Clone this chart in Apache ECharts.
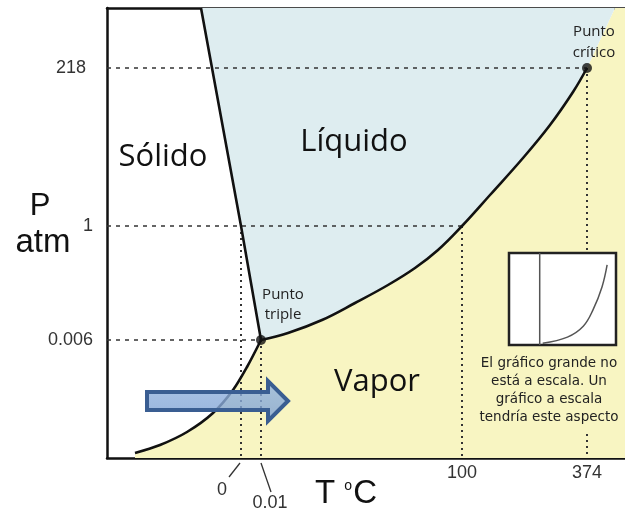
<!DOCTYPE html>
<html>
<head>
<meta charset="utf-8">
<script src="https://cdn.jsdelivr.net/npm/echarts@6/dist/echarts.min.js"></script>
<style>
  html, body { margin: 0; padding: 0; background: #fff; }
  #chart { width: 625px; height: 512px; }
</style>
</head>
<body>
<div id="chart"></div>
<script>
// schematic diagram (not to scale): positions are in diagram units
const tempTicks  = ['0', '0.01', '100', '374']
const tempPos    = [134, 154, 355, 480]
const pressTicks = ['0.006', '1', '218']
const pressPos   = [118, 232, 390]

const meltPoint   = [134, 232]
const triplePoint = [154, 118]
const boilPoint   = [355, 232]
const critPoint   = [480, 390]

const sublimation = [[28, 5], [53, 13], [80, 26], [106, 45], [126, 68], [140, 91], [154, 118]]
const fusion      = [[154, 118], [134, 232], [94, 450]]
const vaporization = [
  [154, 118], [181, 125], [215, 138], [248, 155], [281, 173], [308, 190], [331, 208],
  [355, 232], [383, 263], [416, 300], [443, 333], [466, 366], [480, 390],
]
const supercritical = [[480, 390], [508, 450]]

const arrowFromTo = [[40, 57], [181, 57]]

const insetVertical = [[28.7, 0], [28.7, 100]]
const insetCurve = [[31.5, 2], [54.6, 8.6], [69.4, 20.4], [78.7, 38.7], [87, 63.4], [91.7, 87]]

const X_MAX = 518, Y_MAX = 450

const liquidPoly = [[94, 450]].concat(fusion.slice().reverse().slice(1), vaporization.slice(1), supercritical.slice(1))
const vaporPoly = [[28, 0]].concat(sublimation, vaporization.slice(1), supercritical.slice(1), [[X_MAX, 450], [X_MAX, 0]])

const chart = echarts.init(document.getElementById('chart'))

function polySeries(points, color) {
  return {
    type: 'custom', xAxisIndex: 0, yAxisIndex: 0, z: 1, silent: true,
    data: [[0, 0]],
    renderItem: (params, api) => ({
      type: 'polygon',
      shape: { points: points.map((p) => api.coord(p)), smooth: 0 },
      style: { fill: color, stroke: null },
    }),
  }
}

function refLine(points, dash) {
  return {
    type: 'line', data: points, symbol: 'none', z: 2, silent: true,
    xAxisIndex: 0, yAxisIndex: 0,
    lineStyle: { color: '#333', width: dash === 'dot' ? 2 : 1.4, type: dash === 'dot' ? [2, 4] : [4, 5] },
  }
}

const curveStyle = { color: '#111', width: 2.6 }
const main = { xAxisIndex: 0, yAxisIndex: 0 }
const inset = { xAxisIndex: 2, yAxisIndex: 1 }

const series = [
  polySeries(vaporPoly, '#f8f5c2'),
  polySeries(liquidPoly, '#deedf0'),
  // horizontal guide lines
  refLine([[0, triplePoint[1]], triplePoint], 'dash'),
  refLine([[0, boilPoint[1]], boilPoint], 'dash'),
  refLine([[0, critPoint[1]], critPoint], 'dash'),
  // vertical guide lines
  refLine([meltPoint, [meltPoint[0], 0]], 'dot'),
  refLine([triplePoint, [triplePoint[0], 0]], 'dot'),
  refLine([boilPoint, [boilPoint[0], 0]], 'dot'),
  refLine([critPoint, [critPoint[0], 0]], 'dot'),
  { ...main, type: 'line', data: sublimation, symbol: 'none', z: 3, lineStyle: curveStyle, smooth: 0.3 },
  { ...main, type: 'line', data: fusion, symbol: 'none', z: 3, lineStyle: curveStyle },
  { ...main, type: 'line', data: vaporization, symbol: 'none', z: 3, lineStyle: curveStyle, smooth: 0.4 },
  {
    ...main, type: 'scatter', data: [triplePoint, critPoint], symbolSize: 10, z: 4,
    itemStyle: { color: '#111' },
  },
  {
    // arrow
    ...main, type: 'custom', z: 6, silent: true,
    data: [arrowFromTo[0].concat(arrowFromTo[1])],
    renderItem: (params, api) => {
      const a = api.coord([api.value(0), api.value(1)])
      const b = api.coord([api.value(2), api.value(3)])
      const sh = 9, hh = 20, hl = 20
      const y = a[1]
      return {
        type: 'polygon',
        shape: {
          points: [
            [a[0], y - sh], [b[0] - hl, y - sh], [b[0] - hl, y - hh], [b[0], y],
            [b[0] - hl, y + hh], [b[0] - hl, y + sh], [a[0], y + sh],
          ],
        },
        style: {
          fill: new echarts.graphic.LinearGradient(0, 0, 0, 1, [
            { offset: 0, color: 'rgba(150,182,225,0.8)' },
            { offset: 1, color: 'rgba(125,160,210,0.8)' },
          ]),
          stroke: '#3a5e92', lineWidth: 4, lineJoin: 'miter',
        },
      }
    },
  },
  {
    // leader labels for 0 and 0.01
    ...main, type: 'custom', z: 6, silent: true, clip: false,
    data: [[tempPos[0], 0, 0], [tempPos[1], 0, 1]],
    renderItem: (params, api) => {
      const p = api.coord([api.value(0), 0])
      const i = api.value(2)
      const ln = i === 0 ? [[-1, 5], [-12, 19]] : [[0, 5], [10, 34]]
      const tx = i === 0 ? [-19, 32] : [9, 45]
      return {
        type: 'group',
        children: [
          {
            type: 'line',
            shape: { x1: p[0] + ln[0][0], y1: p[1] + ln[0][1], x2: p[0] + ln[1][0], y2: p[1] + ln[1][1] },
            style: { stroke: '#333', lineWidth: 1.3 },
          },
          {
            type: 'text', x: p[0] + tx[0], y: p[1] + tx[1],
            style: {
              text: tempTicks[i], fill: '#333', font: '18px "Liberation Sans", Arial',
              align: 'center', verticalAlign: 'middle',
            },
          },
        ],
      }
    },
  },
  {
    // inset frame
    ...inset, type: 'custom', z: 7, silent: true,
    data: [[0, 0, 100, 100]],
    renderItem: (params, api) => {
      const a = api.coord([0, 100]), b = api.coord([100, 0])
      return {
        type: 'rect',
        shape: { x: a[0], y: a[1], width: b[0] - a[0], height: b[1] - a[1] },
        style: { fill: '#fff', stroke: '#222', lineWidth: 2.5 },
      }
    },
  },
  {
    ...inset, type: 'line', data: insetVertical, symbol: 'none', z: 8,
    lineStyle: { color: '#555', width: 1.5 },
  },
  {
    ...inset, type: 'line', data: insetCurve, symbol: 'none', z: 8, smooth: 0.4,
    lineStyle: { color: '#555', width: 1.5 },
  },
]

const regionFont = '"Open Sans", "Noto Sans", sans-serif'

function label(text, x, y, size, font, lineHeight) {
  return {
    type: 'text', x, y, z: 100,
    style: {
      text, fill: size < 20 ? '#222' : '#111', font: `${size}px ${font}`,
      align: 'center', verticalAlign: 'middle', lineHeight,
    },
  }
}

const option = {
  animation: false,
  backgroundColor: '#fff',
  grid: [
    { left: 107, top: 8, right: 0, bottom: 54 },
    { left: 509, top: 253, width: 107, height: 92 },
  ],
  xAxis: [
    {
      type: 'value', min: 0, max: X_MAX, gridIndex: 0,
      splitLine: { show: false },
      axisLine: { show: true, lineStyle: { color: '#111', width: 2.5 } },
      axisTick: { show: false },
      axisLabel: {
        customValues: tempPos.slice(2), margin: 6,
        formatter: (v) => tempTicks[tempPos.indexOf(v)],
        color: '#333', fontSize: 18, fontFamily: '"Liberation Sans", Arial',
      },
    },
    {
      type: 'value', min: 0, max: X_MAX, gridIndex: 0, position: 'top',
      splitLine: { show: false }, axisTick: { show: false }, axisLabel: { show: false },
      axisLine: { show: true, lineStyle: { color: '#111', width: 2.5 } },
    },
    { type: 'value', min: 0, max: 100, gridIndex: 1, show: false },
  ],
  yAxis: [
    {
      type: 'value', min: 0, max: Y_MAX, gridIndex: 0,
      splitLine: { show: false },
      axisLine: { show: true, lineStyle: { color: '#111', width: 2.5 } },
      axisTick: { show: false },
      axisLabel: {
        customValues: pressPos, margin: 14,
        formatter: (v) => {
          const t = pressTicks[pressPos.indexOf(v)]
          return t === '218' ? `{w|${t}}` : t
        },
        rich: { w: { color: '#333', fontSize: 18, fontFamily: '"Liberation Sans", Arial', padding: [0, 7, 0, 0] } },
        color: '#333', fontSize: 18, fontFamily: '"Liberation Sans", Arial',
      },
    },
    { type: 'value', min: 0, max: 100, gridIndex: 1, show: false },
  ],
  series,
  graphic: [
    label('Sólido', 163, 157, 31, regionFont),
    label('Líquido', 354, 142, 31, regionFont),
    label('Vapor', 377, 382, 31, regionFont),
    label('Punto\ntriple', 283, 305, 15, regionFont, 20),
    label('Punto\ncrítico', 594, 42, 15, regionFont, 21),
    label('P', 40, 206, 31, '"Liberation Sans", Arial'),
    label('atm', 43, 243, 33, '"Liberation Sans", Arial'),
    {
      type: 'text', x: 346, y: 494, z: 100,
      style: {
        text: '{a|T }{d|o}{a|C}', align: 'center', verticalAlign: 'middle',
        rich: {
          a: { fill: '#111', fontSize: 33, fontFamily: '"Liberation Sans", Arial' },
          d: { fill: '#111', fontSize: 14, fontFamily: '"Liberation Sans", Arial', padding: [0, 1, 16, 0] },
        },
      },
    },
    {
      type: 'text', x: 549, y: 390, z: 100,
      style: {
        text: 'El gráfico grande no\nestá a escala. Un\ngráfico a escala\ntendría este aspecto',
        fill: '#222', font: '13.5px "DejaVu Sans", sans-serif', align: 'center', verticalAlign: 'middle',
        lineHeight: 18, backgroundColor: '#f8f5c2', padding: [4, 2, 6, 2],
      },
    },
  ],
}

chart.setOption(option)
</script>
</body>
</html>
